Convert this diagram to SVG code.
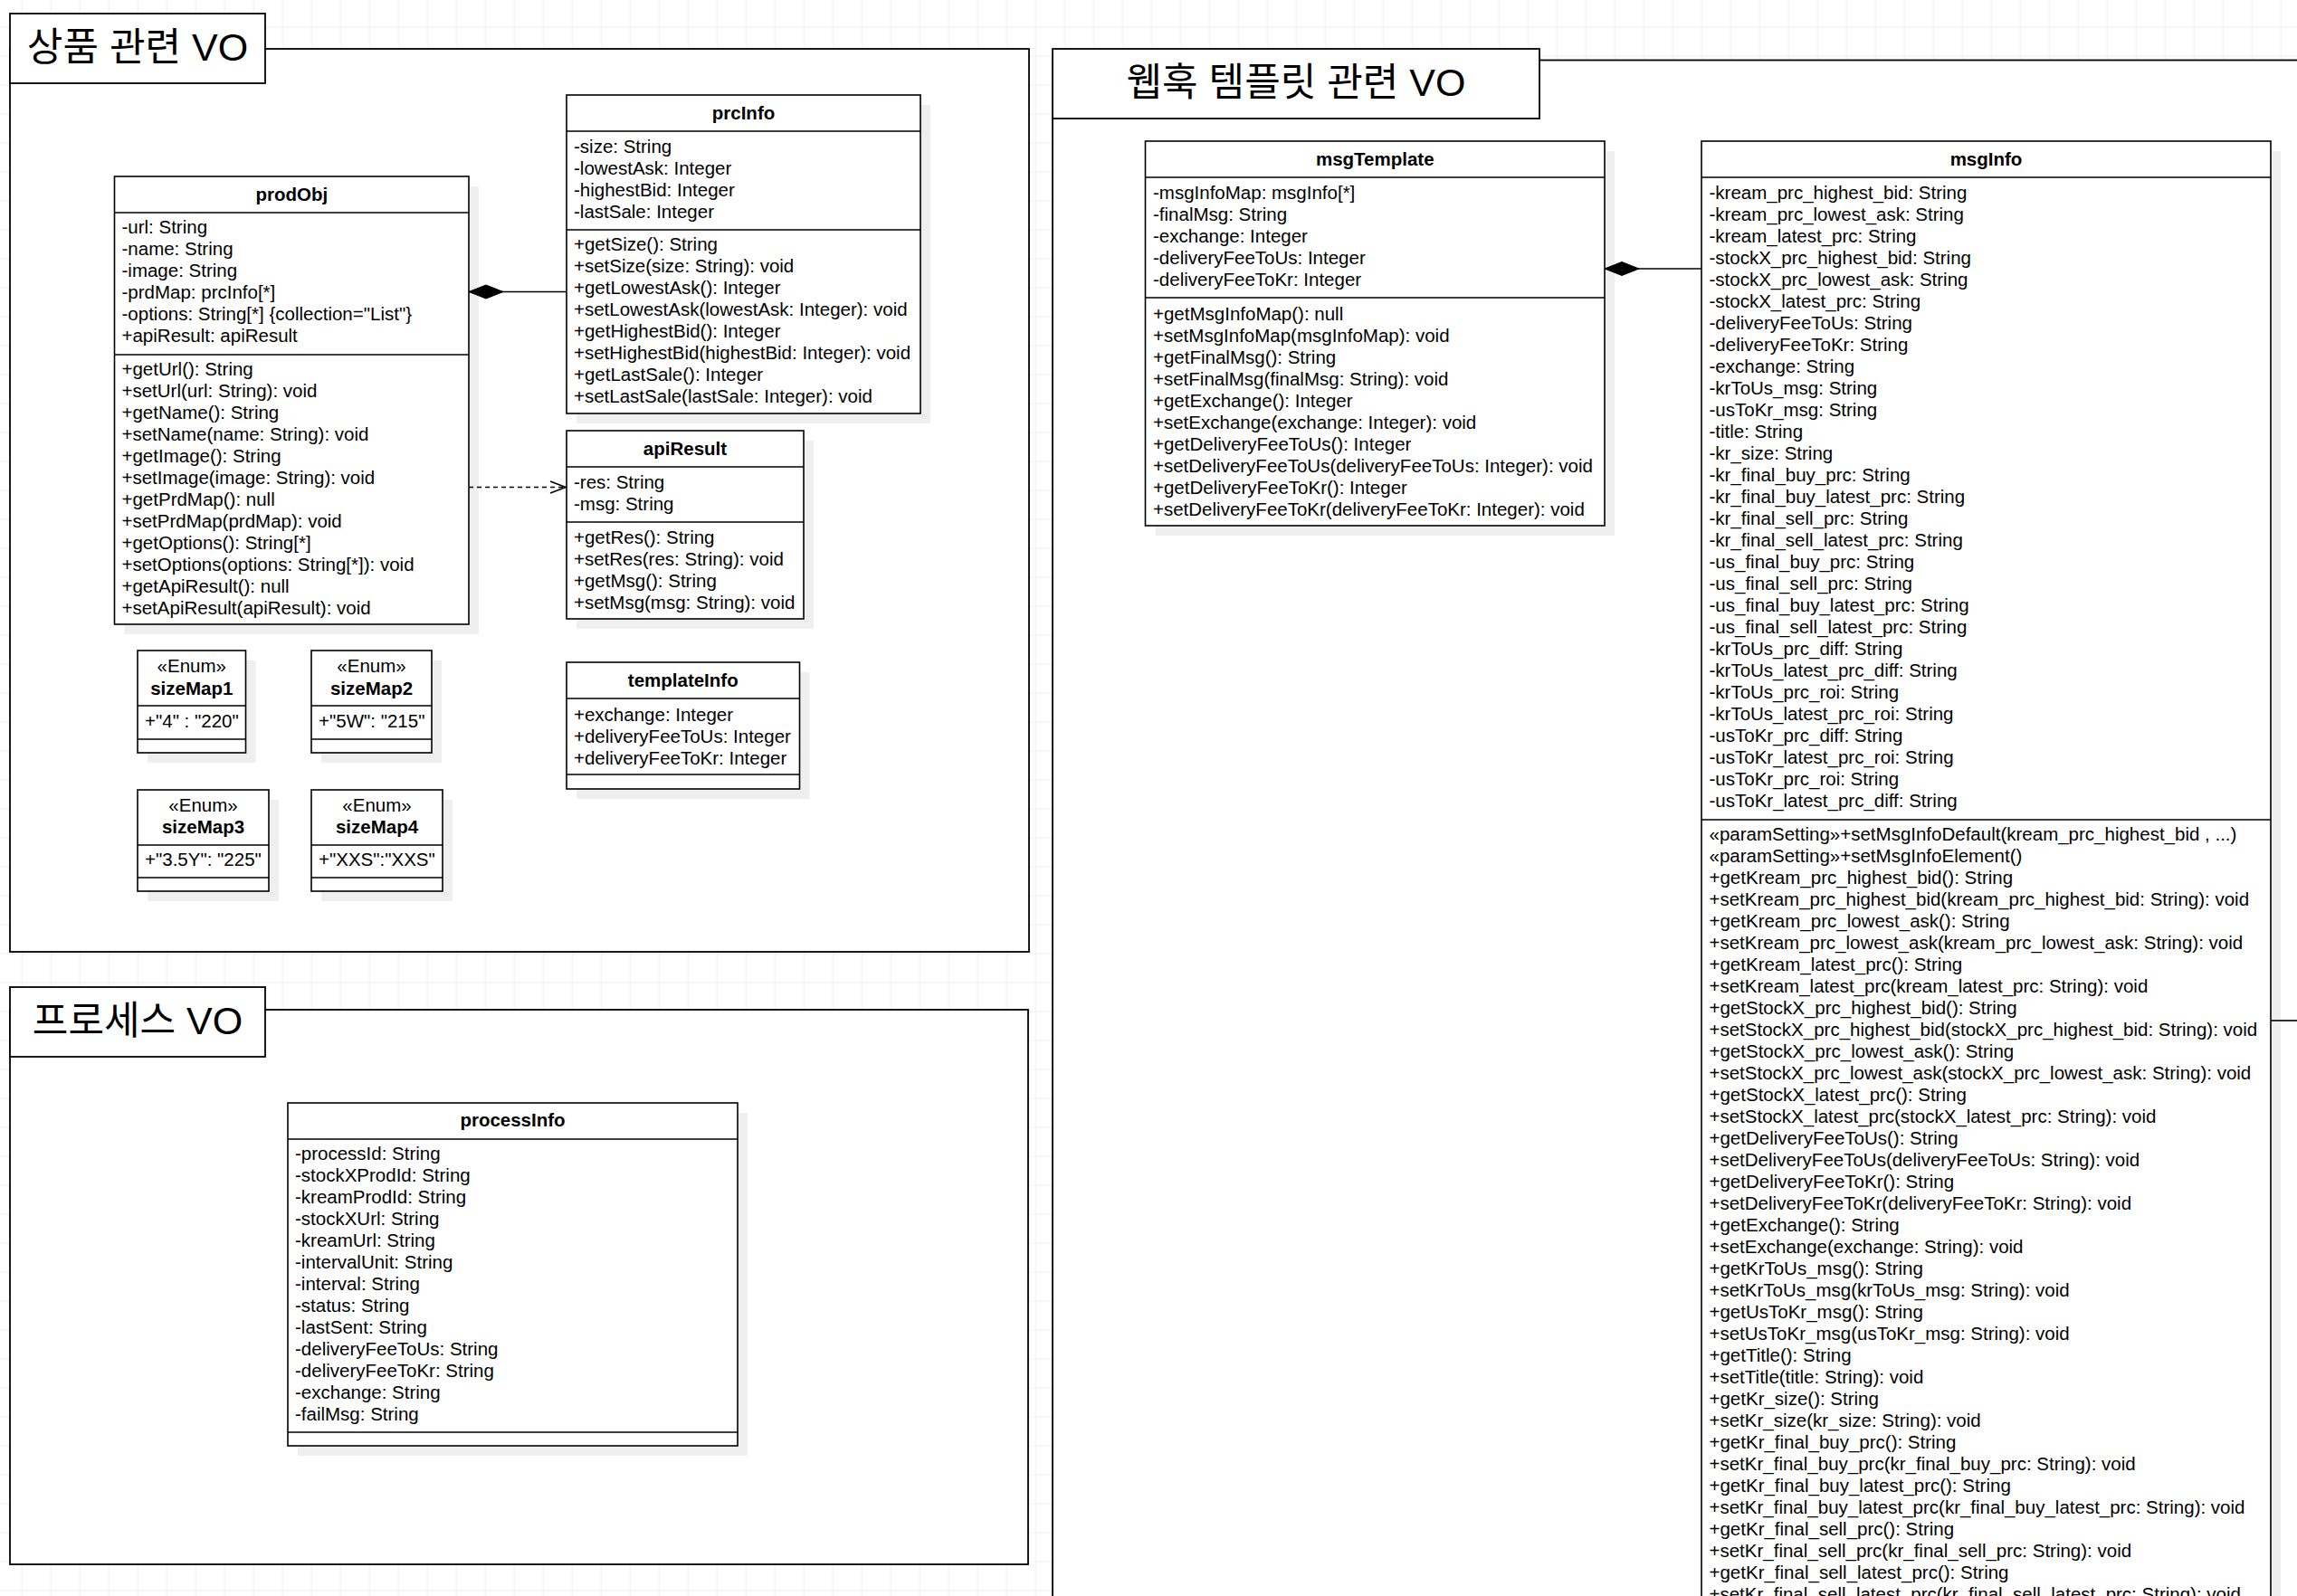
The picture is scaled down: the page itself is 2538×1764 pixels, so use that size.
<svg xmlns="http://www.w3.org/2000/svg" width="2538" height="1764" viewBox="0 0 2538 1764">
<defs>
<pattern id="grid" patternUnits="userSpaceOnUse" x="8.3" y="14.3" width="32" height="32">
<path d="M16,0 V32 M0,16 H32" stroke="#eeeeee" stroke-width="1" fill="none"/>
</pattern>
<marker id="diamond" markerUnits="userSpaceOnUse" markerWidth="40" markerHeight="18" refX="0" refY="9" orient="auto" overflow="visible">
<path d="M0,9 L19,1.5 L38,9 L19,16.5 Z" fill="#000" stroke="#000" stroke-width="1"/>
</marker>
<marker id="open" markerUnits="userSpaceOnUse" markerWidth="20" markerHeight="16" refX="18" refY="8" orient="auto" overflow="visible">
<path d="M1,1.5 L18,8 L1,14.5" fill="none" stroke="#000" stroke-width="1.6"/>
</marker>
<style>
.box{fill:#fff;stroke:#000;stroke-width:1.6}
.frame{fill:#fff;stroke:#000;stroke-width:1.8}
.sh{fill:#efefef}
.ln{stroke:#000;stroke-width:1.6;fill:none}
.t{font-family:"Liberation Sans",Arial,sans-serif;font-size:20.5px;fill:#000;transform:translateY(1px)}
.h{font-weight:bold;text-anchor:middle}
.c{text-anchor:middle}
.ttl{font-family:"Liberation Sans","Noto Sans CJK KR",sans-serif;font-size:43px;fill:#000;text-anchor:middle}
</style>
</defs>
<rect width="2538" height="1764" fill="#fff"/>
<rect width="2538" height="1764" fill="url(#grid)"/>

<g id="group-product">
<rect class="frame" x="11" y="54" width="1126" height="998"/>
<rect class="frame" x="11" y="15" width="282" height="77"/>
<text class="ttl" x="152" y="67">상품 관련 VO</text>
</g>
<g id="group-webhook">
<rect class="frame" x="1163" y="66.5" width="1400" height="1750"/>
<rect class="frame" x="1163" y="54" width="538" height="77"/>
<text class="ttl" x="1432" y="106">웹훅 템플릿 관련 VO</text>
</g>
<g id="group-process">
<rect class="frame" x="11" y="1116" width="1125" height="613"/>
<rect class="frame" x="11" y="1091" width="282" height="77"/>
<text class="ttl" x="152" y="1143">프로세스 VO</text>
</g>

<g id="prodObj">
<rect class="sh" x="137.5" y="206" width="391.5" height="495"/>
<rect class="box" x="126.5" y="195" width="391.5" height="495"/>
<path class="ln" d="M126.5,235 H518 M126.5,392 H518"/>
<text class="t h" x="322.25" y="221">prodObj</text>
<text class="t" x="134.5" y="257"><tspan x="134.5">-url: String</tspan><tspan x="134.5" dy="24">-name: String</tspan><tspan x="134.5" dy="24">-image: String</tspan><tspan x="134.5" dy="24">-prdMap: prcInfo[*]</tspan><tspan x="134.5" dy="24">-options: String[*] {collection="List"}</tspan><tspan x="134.5" dy="24">+apiResult: apiResult</tspan></text>
<text class="t" x="134.5" y="413.5"><tspan x="134.5">+getUrl(): String</tspan><tspan x="134.5" dy="24">+setUrl(url: String): void</tspan><tspan x="134.5" dy="24">+getName(): String</tspan><tspan x="134.5" dy="24">+setName(name: String): void</tspan><tspan x="134.5" dy="24">+getImage(): String</tspan><tspan x="134.5" dy="24">+setImage(image: String): void</tspan><tspan x="134.5" dy="24">+getPrdMap(): null</tspan><tspan x="134.5" dy="24">+setPrdMap(prdMap): void</tspan><tspan x="134.5" dy="24">+getOptions(): String[*]</tspan><tspan x="134.5" dy="24">+setOptions(options: String[*]): void</tspan><tspan x="134.5" dy="24">+getApiResult(): null</tspan><tspan x="134.5" dy="24">+setApiResult(apiResult): void</tspan></text>
</g>

<g id="prcInfo">
<rect class="sh" x="637" y="116" width="391" height="352"/>
<rect class="box" x="626" y="105" width="391" height="352"/>
<path class="ln" d="M626,145 H1017 M626,254 H1017"/>
<text class="t h" x="821.5" y="131">prcInfo</text>
<text class="t" x="634" y="168"><tspan x="634">-size: String</tspan><tspan x="634" dy="24">-lowestAsk: Integer</tspan><tspan x="634" dy="24">-highestBid: Integer</tspan><tspan x="634" dy="24">-lastSale: Integer</tspan></text>
<text class="t" x="634" y="276"><tspan x="634">+getSize(): String</tspan><tspan x="634" dy="24">+setSize(size: String): void</tspan><tspan x="634" dy="24">+getLowestAsk(): Integer</tspan><tspan x="634" dy="24">+setLowestAsk(lowestAsk: Integer): void</tspan><tspan x="634" dy="24">+getHighestBid(): Integer</tspan><tspan x="634" dy="24">+setHighestBid(highestBid: Integer): void</tspan><tspan x="634" dy="24">+getLastSale(): Integer</tspan><tspan x="634" dy="24">+setLastSale(lastSale: Integer): void</tspan></text>
</g>

<g id="apiResult">
<rect class="sh" x="637" y="487" width="262" height="208"/>
<rect class="box" x="626" y="476" width="262" height="208"/>
<path class="ln" d="M626,516 H888 M626,577 H888"/>
<text class="t h" x="757" y="501.5">apiResult</text>
<text class="t" x="634" y="539"><tspan x="634">-res: String</tspan><tspan x="634" dy="24">-msg: String</tspan></text>
<text class="t" x="634" y="600"><tspan x="634">+getRes(): String</tspan><tspan x="634" dy="24">+setRes(res: String): void</tspan><tspan x="634" dy="24">+getMsg(): String</tspan><tspan x="634" dy="24">+setMsg(msg: String): void</tspan></text>
</g>

<g id="sizeMap1">
<rect class="sh" x="163" y="730" width="119.5" height="113"/>
<rect class="box" x="152" y="719" width="119.5" height="113"/>
<path class="ln" d="M152,780 H271.5 M152,817 H271.5"/>
<text class="t c" x="211.75" y="741.5">«Enum»</text>
<text class="t h" x="211.75" y="766.5">sizeMap1</text>
<text class="t" x="160" y="802.5">+"4" : "220"</text>
</g>
<g id="sizeMap2">
<rect class="sh" x="355" y="730" width="133" height="113"/>
<rect class="box" x="344" y="719" width="133" height="113"/>
<path class="ln" d="M344,780 H477 M344,817 H477"/>
<text class="t c" x="410.5" y="741.5">«Enum»</text>
<text class="t h" x="410.5" y="766.5">sizeMap2</text>
<text class="t" x="352" y="802.5">+"5W": "215"</text>
</g>
<g id="sizeMap3">
<rect class="sh" x="163" y="884" width="145" height="112"/>
<rect class="box" x="152" y="873" width="145" height="112"/>
<path class="ln" d="M152,934 H297 M152,970 H297"/>
<text class="t c" x="224.5" y="896">«Enum»</text>
<text class="t h" x="224.5" y="920">sizeMap3</text>
<text class="t" x="160" y="955.5">+"3.5Y": "225"</text>
</g>
<g id="sizeMap4">
<rect class="sh" x="355" y="884" width="145" height="112"/>
<rect class="box" x="344" y="873" width="145" height="112"/>
<path class="ln" d="M344,934 H489 M344,970 H489"/>
<text class="t c" x="416.5" y="896">«Enum»</text>
<text class="t h" x="416.5" y="920">sizeMap4</text>
<text class="t" x="352" y="955.5">+"XXS":"XXS"</text>
</g>

<g id="templateInfo">
<rect class="sh" x="637" y="743" width="257.5" height="140"/>
<rect class="box" x="626" y="732" width="257.5" height="140"/>
<path class="ln" d="M626,772 H883.5 M626,856 H883.5"/>
<text class="t h" x="754.75" y="758">templateInfo</text>
<text class="t" x="634" y="795.5"><tspan x="634">+exchange: Integer</tspan><tspan x="634" dy="24">+deliveryFeeToUs: Integer</tspan><tspan x="634" dy="24">+deliveryFeeToKr: Integer</tspan></text>
</g>

<g id="processInfo">
<rect class="sh" x="329" y="1230" width="497" height="379"/>
<rect class="box" x="318" y="1219" width="497" height="379"/>
<path class="ln" d="M318,1259 H815 M318,1583 H815"/>
<text class="t h" x="566.5" y="1244">processInfo</text>
<text class="t" x="326" y="1280.5"><tspan x="326">-processId: String</tspan><tspan x="326" dy="24">-stockXProdId: String</tspan><tspan x="326" dy="24">-kreamProdId: String</tspan><tspan x="326" dy="24">-stockXUrl: String</tspan><tspan x="326" dy="24">-kreamUrl: String</tspan><tspan x="326" dy="24">-intervalUnit: String</tspan><tspan x="326" dy="24">-interval: String</tspan><tspan x="326" dy="24">-status: String</tspan><tspan x="326" dy="24">-lastSent: String</tspan><tspan x="326" dy="24">-deliveryFeeToUs: String</tspan><tspan x="326" dy="24">-deliveryFeeToKr: String</tspan><tspan x="326" dy="24">-exchange: String</tspan><tspan x="326" dy="24">-failMsg: String</tspan></text>
</g>

<g id="msgTemplate">
<rect class="sh" x="1276.5" y="167" width="507.5" height="425"/>
<rect class="box" x="1265.5" y="156" width="507.5" height="425"/>
<path class="ln" d="M1265.5,196 H1773 M1265.5,329 H1773"/>
<text class="t h" x="1519.25" y="182">msgTemplate</text>
<text class="t" x="1274" y="219"><tspan x="1274">-msgInfoMap: msgInfo[*]</tspan><tspan x="1274" dy="24">-finalMsg: String</tspan><tspan x="1274" dy="24">-exchange: Integer</tspan><tspan x="1274" dy="24">-deliveryFeeToUs: Integer</tspan><tspan x="1274" dy="24">-deliveryFeeToKr: Integer</tspan></text>
<text class="t" x="1274" y="352.5"><tspan x="1274">+getMsgInfoMap(): null</tspan><tspan x="1274" dy="24">+setMsgInfoMap(msgInfoMap): void</tspan><tspan x="1274" dy="24">+getFinalMsg(): String</tspan><tspan x="1274" dy="24">+setFinalMsg(finalMsg: String): void</tspan><tspan x="1274" dy="24">+getExchange(): Integer</tspan><tspan x="1274" dy="24">+setExchange(exchange: Integer): void</tspan><tspan x="1274" dy="24">+getDeliveryFeeToUs(): Integer</tspan><tspan x="1274" dy="24">+setDeliveryFeeToUs(deliveryFeeToUs: Integer): void</tspan><tspan x="1274" dy="24">+getDeliveryFeeToKr(): Integer</tspan><tspan x="1274" dy="24">+setDeliveryFeeToKr(deliveryFeeToKr: Integer): void</tspan></text>
</g>

<g id="msgInfo">
<rect class="sh" x="1891" y="167" width="629" height="1700"/>
<rect class="box" x="1880" y="156" width="629" height="1700"/>
<path class="ln" d="M1880,196 H2509 M1880,906 H2509"/>
<text class="t h" x="2194.5" y="182">msgInfo</text>
<text class="t" x="1888.5" y="218.5"><tspan x="1888.5">-kream_prc_highest_bid: String</tspan><tspan x="1888.5" dy="24">-kream_prc_lowest_ask: String</tspan><tspan x="1888.5" dy="24">-kream_latest_prc: String</tspan><tspan x="1888.5" dy="24">-stockX_prc_highest_bid: String</tspan><tspan x="1888.5" dy="24">-stockX_prc_lowest_ask: String</tspan><tspan x="1888.5" dy="24">-stockX_latest_prc: String</tspan><tspan x="1888.5" dy="24">-deliveryFeeToUs: String</tspan><tspan x="1888.5" dy="24">-deliveryFeeToKr: String</tspan><tspan x="1888.5" dy="24">-exchange: String</tspan><tspan x="1888.5" dy="24">-krToUs_msg: String</tspan><tspan x="1888.5" dy="24">-usToKr_msg: String</tspan><tspan x="1888.5" dy="24">-title: String</tspan><tspan x="1888.5" dy="24">-kr_size: String</tspan><tspan x="1888.5" dy="24">-kr_final_buy_prc: String</tspan><tspan x="1888.5" dy="24">-kr_final_buy_latest_prc: String</tspan><tspan x="1888.5" dy="24">-kr_final_sell_prc: String</tspan><tspan x="1888.5" dy="24">-kr_final_sell_latest_prc: String</tspan><tspan x="1888.5" dy="24">-us_final_buy_prc: String</tspan><tspan x="1888.5" dy="24">-us_final_sell_prc: String</tspan><tspan x="1888.5" dy="24">-us_final_buy_latest_prc: String</tspan><tspan x="1888.5" dy="24">-us_final_sell_latest_prc: String</tspan><tspan x="1888.5" dy="24">-krToUs_prc_diff: String</tspan><tspan x="1888.5" dy="24">-krToUs_latest_prc_diff: String</tspan><tspan x="1888.5" dy="24">-krToUs_prc_roi: String</tspan><tspan x="1888.5" dy="24">-krToUs_latest_prc_roi: String</tspan><tspan x="1888.5" dy="24">-usToKr_prc_diff: String</tspan><tspan x="1888.5" dy="24">-usToKr_latest_prc_roi: String</tspan><tspan x="1888.5" dy="24">-usToKr_prc_roi: String</tspan><tspan x="1888.5" dy="24">-usToKr_latest_prc_diff: String</tspan></text>
<text class="t" x="1888.5" y="927.5"><tspan x="1888.5">«paramSetting»+setMsgInfoDefault(kream_prc_highest_bid , ...)</tspan><tspan x="1888.5" dy="24">«paramSetting»+setMsgInfoElement()</tspan><tspan x="1888.5" dy="24">+getKream_prc_highest_bid(): String</tspan><tspan x="1888.5" dy="24">+setKream_prc_highest_bid(kream_prc_highest_bid: String): void</tspan><tspan x="1888.5" dy="24">+getKream_prc_lowest_ask(): String</tspan><tspan x="1888.5" dy="24">+setKream_prc_lowest_ask(kream_prc_lowest_ask: String): void</tspan><tspan x="1888.5" dy="24">+getKream_latest_prc(): String</tspan><tspan x="1888.5" dy="24">+setKream_latest_prc(kream_latest_prc: String): void</tspan><tspan x="1888.5" dy="24">+getStockX_prc_highest_bid(): String</tspan><tspan x="1888.5" dy="24">+setStockX_prc_highest_bid(stockX_prc_highest_bid: String): void</tspan><tspan x="1888.5" dy="24">+getStockX_prc_lowest_ask(): String</tspan><tspan x="1888.5" dy="24">+setStockX_prc_lowest_ask(stockX_prc_lowest_ask: String): void</tspan><tspan x="1888.5" dy="24">+getStockX_latest_prc(): String</tspan><tspan x="1888.5" dy="24">+setStockX_latest_prc(stockX_latest_prc: String): void</tspan><tspan x="1888.5" dy="24">+getDeliveryFeeToUs(): String</tspan><tspan x="1888.5" dy="24">+setDeliveryFeeToUs(deliveryFeeToUs: String): void</tspan><tspan x="1888.5" dy="24">+getDeliveryFeeToKr(): String</tspan><tspan x="1888.5" dy="24">+setDeliveryFeeToKr(deliveryFeeToKr: String): void</tspan><tspan x="1888.5" dy="24">+getExchange(): String</tspan><tspan x="1888.5" dy="24">+setExchange(exchange: String): void</tspan><tspan x="1888.5" dy="24">+getKrToUs_msg(): String</tspan><tspan x="1888.5" dy="24">+setKrToUs_msg(krToUs_msg: String): void</tspan><tspan x="1888.5" dy="24">+getUsToKr_msg(): String</tspan><tspan x="1888.5" dy="24">+setUsToKr_msg(usToKr_msg: String): void</tspan><tspan x="1888.5" dy="24">+getTitle(): String</tspan><tspan x="1888.5" dy="24">+setTitle(title: String): void</tspan><tspan x="1888.5" dy="24">+getKr_size(): String</tspan><tspan x="1888.5" dy="24">+setKr_size(kr_size: String): void</tspan><tspan x="1888.5" dy="24">+getKr_final_buy_prc(): String</tspan><tspan x="1888.5" dy="24">+setKr_final_buy_prc(kr_final_buy_prc: String): void</tspan><tspan x="1888.5" dy="24">+getKr_final_buy_latest_prc(): String</tspan><tspan x="1888.5" dy="24">+setKr_final_buy_latest_prc(kr_final_buy_latest_prc: String): void</tspan><tspan x="1888.5" dy="24">+getKr_final_sell_prc(): String</tspan><tspan x="1888.5" dy="24">+setKr_final_sell_prc(kr_final_sell_prc: String): void</tspan><tspan x="1888.5" dy="24">+getKr_final_sell_latest_prc(): String</tspan><tspan x="1888.5" dy="24">+setKr_final_sell_latest_prc(kr_final_sell_latest_prc: String): void</tspan></text>
</g>

<g id="connectors">
<path class="ln" d="M518,322.5 H626" marker-start="url(#diamond)"/>
<path class="ln" d="M518,538.5 H625" stroke-dasharray="5 4" marker-end="url(#open)"/>
<path class="ln" d="M1773,297 H1880" marker-start="url(#diamond)"/>
<path class="ln" d="M2509,1128 H2538"/>
</g>
</svg>
